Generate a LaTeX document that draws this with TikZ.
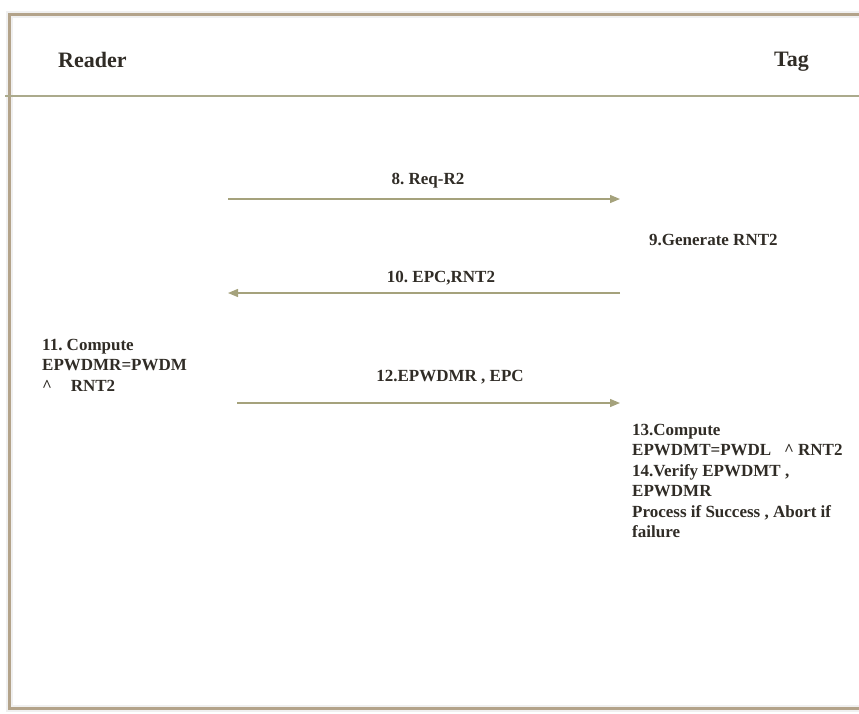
\documentclass[tikz,border=0pt]{standalone}
\usepackage{fontspec}
\setmainfont{Liberation Serif}
\usetikzlibrary{arrows.meta}
\definecolor{frametan}{HTML}{B3A38A}
\definecolor{headolive}{HTML}{ABAA8C}
\definecolor{msgolive}{HTML}{A5A27C}
\definecolor{inkdark}{HTML}{302C26}
\frenchspacing

\begin{document}
\begin{tikzpicture}[x=1pt,y=-1pt,
    txt/.style={text=inkdark,font=\bfseries\fontsize{17}{20.5}\selectfont,inner sep=0pt},
    role/.style={text=inkdark,font=\bfseries\fontsize{22}{24}\selectfont,inner sep=0pt},
    msg/.style={draw=msgolive,line width=1.3,-{Triangle[length=10,width=8]}}]
			%%%%% START %%%%%
			\useasboundingbox (0,0) rectangle (859,713);
			
			\draw[black!6,line width=7] (9,14) rectangle (880,708);
			\draw[frametan,line width=3] (9,14) rectangle (880,708);
			\draw[headolive,line width=1.5] (5,96) -- (859,96);
			
			\node[role,anchor=west] (reader) at (58,60) {Reader};
			\node[role,anchor=west] (tag) at (774,62) {Tag};
			
			\coordinate (r8) at (228,199);
			\coordinate (t8) at (620,199);
			\draw[msg] (r8) -- (t8);
			\node[txt] (req) at (428,181) {8. Req-R2};
			
			\node[txt,anchor=west] (gen) at (649,240) {9.Generate RNT2};
			
			\coordinate (t10) at (620,293);
			\coordinate (r10) at (228,293);
			\draw[msg] (t10) -- (r10);
			\node[txt] (epc) at (441,278) {10. EPC,RNT2};
			
			\node[txt,anchor=north west,align=left] (comp) at (42,339)
			{11. Compute\\EPWDMR=PWDM\\\textasciicircum\hspace{1.1em}RNT2};
			
			\coordinate (r12) at (237,403);
			\coordinate (t12) at (620,403);
			\draw[msg] (r12) -- (t12);
			\node[txt] (send) at (450,377) {12.EPWDMR , EPC};
			
			\node[txt,anchor=north west,align=left] (verify) at (632,424)
			{13.Compute\\EPWDMT=PWDL\hspace{0.5em} \textasciicircum\ RNT2\\14.Verify EPWDMT ,\\EPWDMR\\Process if Success , Abort if\\failure};
			
			%%%%% END %%%%%
\end{tikzpicture}
\end{document}
